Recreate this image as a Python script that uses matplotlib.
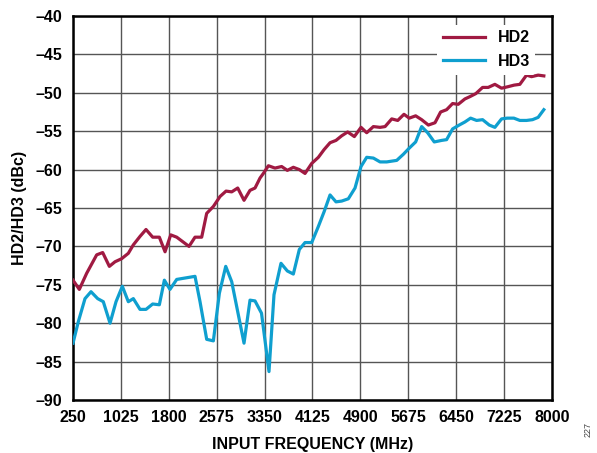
import numpy as np
import matplotlib
matplotlib.use("Agg")
import matplotlib.pyplot as plt

# values (MHz, dBc)
hd2_freq = [250, 352, 471, 633, 730, 838, 930, 1037, 1145, 1226, 1334, 1431, 1539, 1647,
            1739, 1831, 1928, 2127, 2224, 2332, 2413, 2521, 2629, 2726, 2818, 2915, 3017,
            3114, 3195, 3276, 3330, 3411, 3518, 3626, 3718, 3815, 3912, 4004, 4112, 4220,
            4312, 4409, 4505, 4597, 4694, 4802, 4910, 5002, 5110, 5218, 5299, 5407, 5504,
            5605, 5691, 5794, 5891, 6000, 6107, 6198, 6295, 6392, 6483, 6591, 6672, 6769,
            6877, 6968, 7076, 7184, 7291, 7388, 7480, 7588, 7669, 7776, 7868]
hd2_dbc = [-74.4, -75.6, -73.5, -71.1, -70.8, -72.6, -72.0, -71.6, -70.9, -69.8, -68.7,
           -67.8, -68.8, -68.8, -70.7, -68.5, -68.8, -70.0, -68.8, -68.8, -65.7, -64.8,
           -63.5, -62.8, -62.9, -62.4, -64.0, -62.7, -62.4, -61.1, -60.5, -59.5, -59.8,
           -59.6, -60.1, -59.7, -60.0, -60.5, -59.2, -58.4, -57.4, -56.5, -56.2, -55.6,
           -55.1, -55.7, -54.5, -55.2, -54.4, -54.5, -54.4, -53.4, -53.6, -52.8, -53.3,
           -53.0, -53.5, -54.2, -53.9, -52.5, -52.2, -51.4, -51.5, -50.8, -50.5, -50.1,
           -49.3, -49.3, -48.9, -49.4, -49.2, -49.0, -48.9, -47.7, -47.9, -47.7, -47.8]

hd3_freq = [250, 336, 444, 541, 649, 740, 849, 946, 1048, 1145, 1226, 1334, 1431, 1539,
            1647, 1728, 1819, 1928, 2224, 2305, 2413, 2521, 2618, 2721, 2818, 2915, 3017,
            3114, 3195, 3300, 3421, 3502, 3615, 3718, 3815, 3912, 4004, 4112, 4220, 4312,
            4409, 4505, 4597, 4705, 4813, 4910, 5002, 5110, 5218, 5326, 5488, 5596, 5691,
            5794, 5891, 5988, 6095, 6214, 6295, 6392, 6499, 6591, 6683, 6780, 6877, 6985,
            7076, 7184, 7275, 7383, 7480, 7588, 7685, 7776, 7868]
hd3_dbc = [-82.6, -79.8, -76.8, -75.9, -76.8, -77.2, -80.0, -77.2, -75.2, -77.2, -76.8,
           -78.2, -78.2, -77.5, -77.6, -74.4, -75.6, -74.3, -73.9, -77.2, -82.1, -82.3,
           -76.1, -72.6, -74.6, -78.5, -82.6, -77.0, -77.1, -78.7, -86.3, -76.3, -72.2,
           -73.2, -73.6, -70.4, -69.5, -69.5, -67.4, -65.5, -63.3, -64.2, -64.1, -63.8,
           -62.4, -59.6, -58.4, -58.5, -59.0, -59.0, -58.8, -58.0, -57.2, -56.4, -54.4,
           -55.2, -56.4, -56.2, -56.1, -54.7, -54.2, -53.8, -53.3, -53.6, -53.5, -54.2,
           -54.5, -53.4, -53.3, -53.3, -53.6, -53.6, -53.5, -53.2, -52.2]

x_ticks = [250, 1025, 1800, 2575, 3350, 4125, 4900, 5675, 6450, 7225, 8000]
y_ticks = [-90, -85, -80, -75, -70, -65, -60, -55, -50, -45, -40]

plt.rcParams['font.family'] = ['Liberation Sans', 'DejaVu Sans']
plt.rcParams['font.weight'] = 'bold'

fig = plt.figure(figsize=(5.97, 4.53), dpi=100)
ax = fig.add_axes([0.1223, 0.117, 0.8023, 0.8477])

ax.plot(hd2_freq, hd2_dbc, color='#A01A42', lw=2.3, label='HD2', zorder=3)
ax.plot(hd3_freq, hd3_dbc, color='#0F9FCF', lw=2.3, label='HD3', zorder=3)

ax.set_xlim(250, 8000)
ax.set_ylim(-90, -40)
ax.set_xticks(x_ticks)
ax.set_yticks(y_ticks)
ax.set_yticklabels([str(v).replace('-', '\u2013') for v in y_ticks])
ax.tick_params(length=0, labelsize=11.5)
ax.tick_params(axis='x', pad=7)
ax.tick_params(axis='y', pad=8)
for lab in ax.get_xticklabels() + ax.get_yticklabels():
    lab.set_fontweight('bold')
ax.grid(True, color='#555555', lw=1.0)
ax.set_axisbelow(True)
for s in ax.spines.values():
    s.set_linewidth(1.8)
    s.set_color('black')

ax.set_xlabel('INPUT FREQUENCY (MHz)', fontsize=11.5, fontweight='bold', labelpad=9)
ax.set_ylabel('HD2/HD3 (dBc)', fontsize=11.5, fontweight='bold', labelpad=6)

leg = ax.legend(loc='upper right', bbox_to_anchor=(0.975, 0.99), frameon=True,
                fontsize=11.5, handlelength=2.6, handletextpad=0.8, labelspacing=0.55,
                borderaxespad=0.3, borderpad=0.35)
leg.get_frame().set_edgecolor('none')
leg.get_frame().set_facecolor('white')
leg.get_frame().set_alpha(1.0)
for t in leg.get_texts():
    t.set_fontweight('bold')

fig.text(0.985, 0.035, '227', rotation=90, fontsize=6.5, color='#444444',
         fontweight='normal', ha='center', va='bottom')

fig.savefig('out.png', dpi=100)
